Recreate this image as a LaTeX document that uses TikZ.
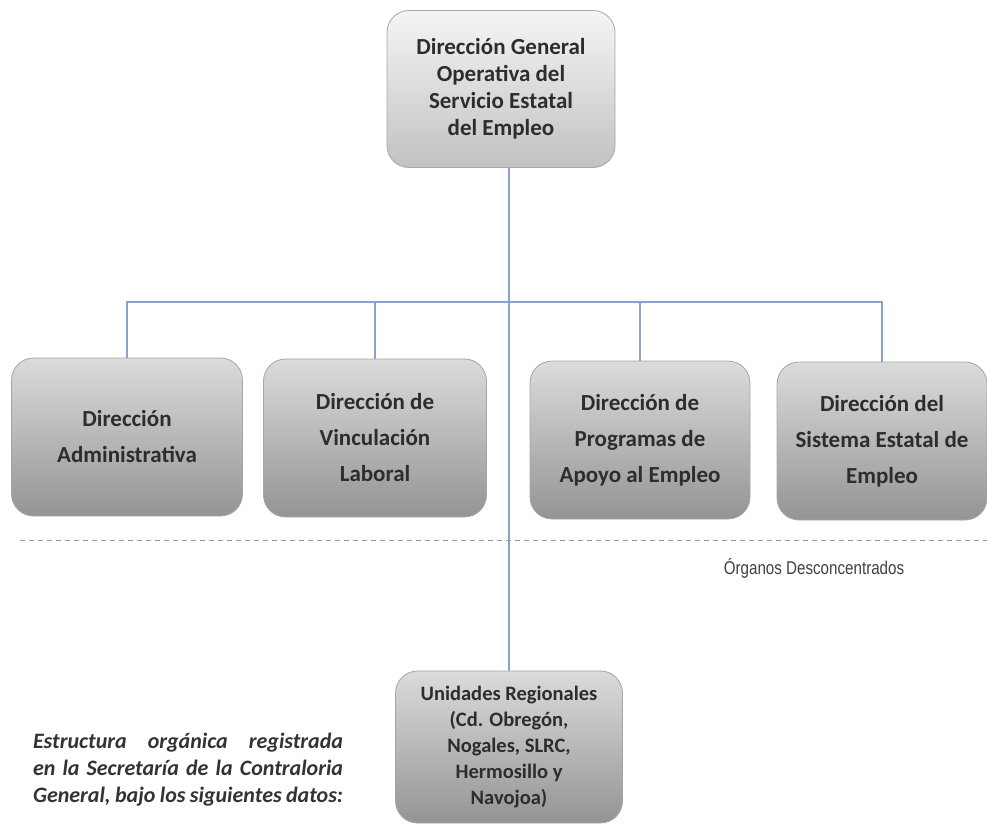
\documentclass[tikz,border=0pt]{standalone}
\usepackage{fontspec}
\setmainfont{Carlito}
\newfontfamily\narrowsans[FakeStretch=0.82]{Liberation Sans}
\usepackage{xcolor}
\usetikzlibrary{positioning,calc}
\definecolor{linkblue}{RGB}{140,162,204}
\definecolor{boxtext}{RGB}{45,45,45}

\begin{document}
\begin{tikzpicture}[x=1pt,y=-1pt,
    org box/.style={draw=black!35, line width=0.8pt, rounded corners=22pt, minimum height=158pt, align=center, text=boxtext, font=\bfseries\fontsize{23}{36}\selectfont, top color=black!14, bottom color=black!42},
    top box/.style={org box, minimum width=228pt, minimum height=157pt, top color=black!4, bottom color=black!24, font=\bfseries\fontsize{23}{27}\selectfont},
    link/.style={draw=linkblue, line width=2.4pt},
    sep line/.style={draw=black!40, line width=0.8pt, dash pattern=on 5pt off 4pt}]
    \useasboundingbox (0,0) rectangle (987,825);

    % Head of the structure
    \node[top box] (dgo) at (501,89) {Dirección General\\Operativa del\\Servicio Estatal\\del Empleo};

    % Directions
    \node[org box, minimum width=231pt] (dadm) at (127,437) {Dirección\\Administrativa};
    \node[org box, minimum width=223pt] (dvin) at (375,438) {Dirección de\\Vinculación\\Laboral};
    \node[org box, minimum width=220pt] (dprog) at (640,440) {Dirección de\\Programas de\\Apoyo al Empleo};
    \node[org box, minimum width=210pt] (dsis) at (882,441) {Dirección del\\Sistema Estatal de\\Empleo};

    % Regional units
    \node[org box, minimum width=227pt, minimum height=152pt, font=\bfseries\fontsize{20.5}{26}\selectfont] (ureg) at (509,747) {Unidades Regionales\\(Cd. Obregón,\\Nogales, SLRC,\\Hermosillo y\\Navojoa)};

    % Connections
    \coordinate (bus) at (509,302);
    \draw[link] (dgo.south -| ureg.north) -- (ureg.north);
    \draw[link] (dadm.north) |- (bus) -| (dsis.north);
    \draw[link] (dvin.north) -- (dvin.north |- bus);
    \draw[link] (dprog.north) -- (dprog.north |- bus);

    % Separation of the decentralised bodies
    \coordinate (sepL) at (20,540);
    \coordinate (sepR) at (987,540);
    \draw[sep line] (sepL) -- (sepR);
    \node[font=\narrowsans\fontsize{18.5}{20}\selectfont, text=black!75] (organos) at (814,568) {Órganos Desconcentrados};

    % Note
    \node[inner sep=0pt, align=left, text=black!80, font=\bfseries\itshape\fontsize{22}{27}\selectfont] (nota) at (188,770)
        {\makebox[310pt][s]{Estructura orgánica registrada}\\
         \makebox[310pt][s]{en la Secretaría de la Contraloria}\\
         \makebox[310pt][s]{General, bajo los siguientes datos:}};
\end{tikzpicture}
\end{document}
